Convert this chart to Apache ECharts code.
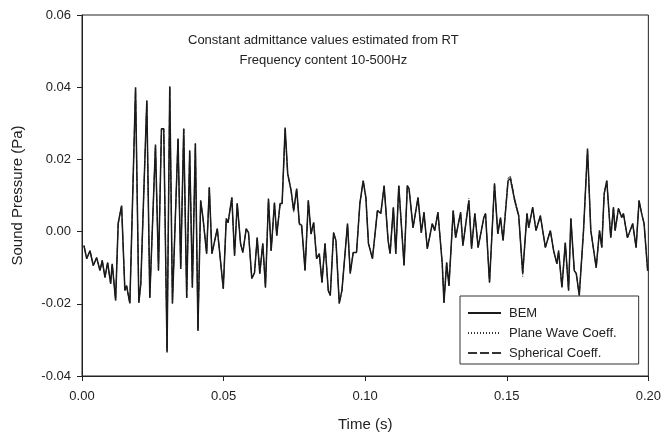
<!DOCTYPE html>
<html>
<head>
<meta charset="utf-8">
<script src="https://cdn.jsdelivr.net/npm/echarts@6/dist/echarts.min.js"></script>
<style>
html,body{margin:0;padding:0;background:#fff;}
#chart{width:664px;height:437px;}
</style>
</head>
<body>
<div id="chart"></div>
<script>
var seriesNames = ['BEM', 'Plane Wave Coeff.', 'Spherical Coeff.'];
var xTicks = [0, 0.05, 0.10, 0.15, 0.20];
var yTicks = [-0.04, -0.02, 0.00, 0.02, 0.04, 0.06];
var noteLines = ['Constant admittance values estimated from RT', 'Frequency content 10-500Hz'];

var times = [0.0007,0.00165,0.00282,0.00398,0.00518,0.00634,0.00715,0.0081,0.00905,0.01011,
0.01067,0.01187,0.01278,0.01398,0.01514,0.01574,0.0169,0.01891,0.02007,0.02077,
0.02289,0.02394,0.02595,0.02701,0.02806,0.02887,0.03004,0.03099,0.03194,0.03391,
0.03486,0.03592,0.03697,0.03803,0.03898,0.04004,0.04095,0.0419,0.04271,0.04401,
0.04496,0.04588,0.04778,0.04989,0.05095,0.05158,0.05292,0.05387,0.05482,0.05599,
0.0568,0.05799,0.0588,0.05996,0.06092,0.06187,0.06278,0.06384,0.06479,0.06585,
0.0668,0.06796,0.06877,0.06996,0.07067,0.07173,0.07264,0.07384,0.07475,0.07581,
0.07676,0.07757,0.07877,0.07993,0.08088,0.0818,0.08285,0.0838,0.08475,0.08581,
0.08697,0.08768,0.08884,0.08968,0.09085,0.0918,0.09377,0.09472,0.09577,0.09694,
0.09813,0.0993,0.10025,0.10116,0.10257,0.10433,0.10553,0.10669,0.1081,0.1088,
0.10996,0.11081,0.11187,0.11373,0.11489,0.11549,0.1169,0.11866,0.11982,0.12077,
0.12194,0.1237,0.12454,0.1257,0.12722,0.12782,0.12877,0.12958,0.13109,0.13194,
0.1337,0.13451,0.13662,0.13757,0.13873,0.13989,0.1419,0.1425,0.14391,0.14567,
0.14683,0.14778,0.1487,0.15046,0.1513,0.15282,0.15423,0.15563,0.15715,0.15775,
0.15915,0.16032,0.16187,0.16363,0.16539,0.16655,0.16771,0.16831,0.16948,0.17067,
0.17183,0.17264,0.17384,0.17454,0.1756,0.17711,0.17852,0.17968,0.18158,0.18275,
0.18356,0.1844,0.18532,0.18673,0.18768,0.18827,0.18944,0.1906,0.1912,0.19261,
0.19447,0.19567,0.19673,0.19764,0.19849,0.19975];

var bem = [-0.0039,-0.0075,-0.0053,-0.0094,-0.0072,-0.0108,-0.0080,-0.0127,-0.0086,-0.0144,
-0.0089,-0.0191,0.0022,0.0072,-0.0163,-0.0150,-0.0199,0.0400,-0.0197,-0.0144,
0.0363,-0.0183,0.0241,-0.0108,0.0285,0.0285,-0.0335,0.0402,-0.0199,0.0258,
-0.0103,0.0285,-0.0183,0.0224,-0.0155,0.0244,-0.0274,0.0086,0.0039,-0.0061,
0.0122,-0.0061,0.0008,-0.0158,0.0036,0.0025,0.0094,-0.0067,0.0078,-0.0033,
-0.0058,0.0008,-0.0003,-0.0130,-0.0114,-0.0017,-0.0116,-0.0033,-0.0155,0.0091,
-0.0053,0.0080,-0.0011,0.0078,0.0078,0.0288,0.0161,0.0114,0.0058,0.0119,
0.0022,0.0017,-0.0108,0.0086,-0.0006,0.0025,-0.0075,-0.0061,-0.0141,-0.0033,
-0.0163,-0.0177,-0.0003,-0.0025,-0.0199,-0.0163,0.0022,-0.0116,-0.0058,-0.0058,
0.0078,0.0141,0.0094,-0.0033,-0.0075,0.0058,0.0050,0.0127,-0.0025,-0.0061,
0.0067,-0.0061,0.0127,-0.0094,0.0127,0.0119,0.0011,0.0094,-0.0003,0.0053,
-0.0047,0.0022,0.0003,0.0053,-0.0089,-0.0197,-0.0086,-0.0150,0.0058,-0.0017,
0.0053,-0.0039,0.0086,-0.0047,0.0050,-0.0044,0.0039,0.0050,-0.0141,0.0133,
-0.0006,0.0039,-0.0025,0.0141,0.0147,0.0086,0.0044,-0.0116,0.0050,0.0011,
0.0067,0.0003,0.0044,-0.0044,0.0003,-0.0053,-0.0089,-0.0053,-0.0155,-0.0031,
-0.0163,0.0036,-0.0108,-0.0116,-0.0177,0.0003,0.0230,0.0003,-0.0100,0.0003,
-0.0044,0.0105,0.0141,-0.0017,0.0067,0.0003,0.0064,0.0039,0.0050,-0.0017,
0.0022,-0.0044,0.0086,0.0050,0.0022,-0.0108];

var planeWave = [-0.0039,-0.0075,-0.0053,-0.0094,-0.0072,-0.0108,-0.0080,-0.0127,-0.0086,-0.0144,
-0.0089,-0.0191,0.0030,0.0072,-0.0163,-0.0150,-0.0199,0.0398,-0.0197,-0.0144,
0.0360,-0.0183,0.0241,-0.0108,0.0283,0.0283,-0.0332,0.0400,-0.0199,0.0258,
-0.0103,0.0285,-0.0183,0.0224,-0.0155,0.0244,-0.0274,0.0086,0.0039,-0.0061,
0.0122,-0.0061,0.0008,-0.0158,0.0036,0.0025,0.0094,-0.0067,0.0078,-0.0033,
-0.0058,0.0008,-0.0003,-0.0130,-0.0114,-0.0017,-0.0116,-0.0033,-0.0155,0.0091,
-0.0053,0.0080,-0.0011,0.0072,0.0074,0.0275,0.0155,0.0110,0.0052,0.0115,
0.0018,0.0010,-0.0108,0.0086,-0.0010,0.0025,-0.0075,-0.0061,-0.0141,-0.0033,
-0.0163,-0.0177,-0.0003,-0.0025,-0.0199,-0.0163,0.0022,-0.0116,-0.0058,-0.0058,
0.0078,0.0141,0.0094,-0.0033,-0.0075,0.0058,0.0055,0.0127,-0.0025,-0.0061,
0.0067,-0.0061,0.0127,-0.0094,0.0127,0.0119,0.0011,0.0094,-0.0003,0.0053,
-0.0047,0.0022,0.0003,0.0053,-0.0089,-0.0185,-0.0086,-0.0150,0.0058,-0.0017,
0.0053,-0.0039,0.0092,-0.0047,0.0050,-0.0044,0.0039,0.0050,-0.0141,0.0133,
-0.0006,0.0039,-0.0025,0.0136,0.0140,0.0080,0.0040,-0.0125,0.0050,0.0011,
0.0067,0.0003,0.0044,-0.0044,0.0003,-0.0053,-0.0089,-0.0053,-0.0155,-0.0031,
-0.0163,0.0036,-0.0108,-0.0116,-0.0177,0.0003,0.0222,0.0003,-0.0100,0.0003,
-0.0044,0.0105,0.0141,-0.0017,0.0067,0.0003,0.0064,0.0039,0.0050,-0.0017,
0.0022,-0.0044,0.0086,0.0050,0.0022,-0.0108];

var spherical = [-0.0039,-0.0075,-0.0053,-0.0094,-0.0072,-0.0108,-0.0080,-0.0127,-0.0086,-0.0144,
-0.0089,-0.0191,0.0022,0.0072,-0.0163,-0.0150,-0.0199,0.0400,-0.0197,-0.0144,
0.0363,-0.0183,0.0241,-0.0108,0.0285,0.0285,-0.0330,0.0402,-0.0199,0.0258,
-0.0103,0.0285,-0.0183,0.0224,-0.0155,0.0244,-0.0274,0.0086,0.0039,-0.0061,
0.0122,-0.0061,0.0008,-0.0158,0.0036,0.0025,0.0094,-0.0067,0.0078,-0.0033,
-0.0058,0.0008,-0.0003,-0.0130,-0.0114,-0.0017,-0.0116,-0.0033,-0.0155,0.0091,
-0.0053,0.0080,-0.0011,0.0078,0.0078,0.0283,0.0161,0.0114,0.0058,0.0119,
0.0022,0.0017,-0.0108,0.0086,-0.0006,0.0025,-0.0075,-0.0061,-0.0141,-0.0033,
-0.0163,-0.0177,-0.0003,-0.0025,-0.0199,-0.0163,0.0022,-0.0116,-0.0058,-0.0058,
0.0078,0.0141,0.0094,-0.0033,-0.0075,0.0058,0.0050,0.0127,-0.0025,-0.0061,
0.0067,-0.0061,0.0127,-0.0094,0.0127,0.0119,0.0011,0.0094,-0.0003,0.0053,
-0.0047,0.0022,0.0003,0.0053,-0.0089,-0.0197,-0.0086,-0.0150,0.0058,-0.0017,
0.0053,-0.0039,0.0086,-0.0047,0.0050,-0.0044,0.0039,0.0050,-0.0141,0.0133,
-0.0006,0.0039,-0.0025,0.0148,0.0153,0.0090,0.0044,-0.0116,0.0050,0.0011,
0.0067,0.0003,0.0044,-0.0044,0.0003,-0.0053,-0.0089,-0.0053,-0.0155,-0.0031,
-0.0163,0.0036,-0.0108,-0.0116,-0.0177,0.0003,0.0226,0.0003,-0.0100,0.0003,
-0.0044,0.0105,0.0141,-0.0017,0.0067,0.0003,0.0064,0.0039,0.0050,-0.0017,
0.0022,-0.0044,0.0086,0.0050,0.0022,-0.0108];

function pairs(vals) {
  return times.map(function (t, i) { return [t, vals[i]]; });
}

var FONT = '"Liberation Sans", Arial, Helvetica, sans-serif';
var TXT = '#222';

var chart = echarts.init(document.getElementById('chart'), null, {renderer: 'canvas'});
chart.setOption({
  animation: false,
  backgroundColor: '#fff',
  grid: {left: 82, right: 15, top: 15, bottom: 61, show: true, borderColor: '#222', borderWidth: 1, backgroundColor: 'transparent'},
  graphic: [{
    type: 'text', left: 352 - 164, top: 30, z: 10,
    style: {text: noteLines.join('\n'), textAlign: 'center', font: '13px ' + FONT, fill: TXT, lineHeight: 20, x: 164, align: 'center'}
  }],
  legend: {
    orient: 'vertical', left: 460, top: 296,
    padding: [10, 22, 4, 7], itemGap: 6, itemWidth: 33, itemHeight: 10,
    backgroundColor: '#fff', borderColor: '#333', borderWidth: 1, borderRadius: 0,
    itemStyle: {opacity: 0},
    textStyle: {fontFamily: FONT, fontSize: 13, color: TXT, lineHeight: 14, padding: [0, 0, 0, 3]},
    data: seriesNames
  },
  xAxis: {
    type: 'value', min: 0, max: 0.2, interval: 0.05,
    name: 'Time (s)', nameLocation: 'middle', nameGap: 41,
    nameTextStyle: {fontFamily: FONT, fontSize: 15, color: TXT},
    axisLine: {show: true, onZero: false, lineStyle: {color: '#222', width: 1}},
    axisTick: {show: true, inside: false, length: 5, lineStyle: {color: '#222'}},
    axisLabel: {fontFamily: FONT, fontSize: 13, color: TXT, margin: 14,
      formatter: function (v) { return v.toFixed(2); }},
    splitLine: {show: false}
  },
  yAxis: {
    type: 'value', min: -0.04, max: 0.06, interval: 0.02,
    name: 'Sound Pressure (Pa)', nameLocation: 'middle', nameGap: 57,
    nameTextStyle: {fontFamily: FONT, fontSize: 15, color: TXT},
    axisLine: {show: true, onZero: false, lineStyle: {color: '#222', width: 1}},
    axisTick: {show: true, inside: false, length: 5, lineStyle: {color: '#222'}},
    axisLabel: {fontFamily: FONT, fontSize: 13, color: TXT, margin: 11,
      formatter: function (v) { return v.toFixed(2); }},
    splitLine: {show: false}
  },
  series: [
    {name: seriesNames[0], type: 'line', data: pairs(bem), symbol: 'none', z: 3,
     lineStyle: {color: '#1a1a1a', width: 1.5, type: 'solid'}, itemStyle: {color: '#1a1a1a'}},
    {name: seriesNames[1], type: 'line', data: pairs(planeWave), symbol: 'none', z: 2,
     lineStyle: {color: '#333', width: 1, type: [1, 2]}, itemStyle: {color: '#333'}},
    {name: seriesNames[2], type: 'line', data: pairs(spherical), symbol: 'none', z: 2,
     lineStyle: {color: '#333', width: 1, type: [9, 3]}, itemStyle: {color: '#333'}}
  ]
});
</script>
</body>
</html>
